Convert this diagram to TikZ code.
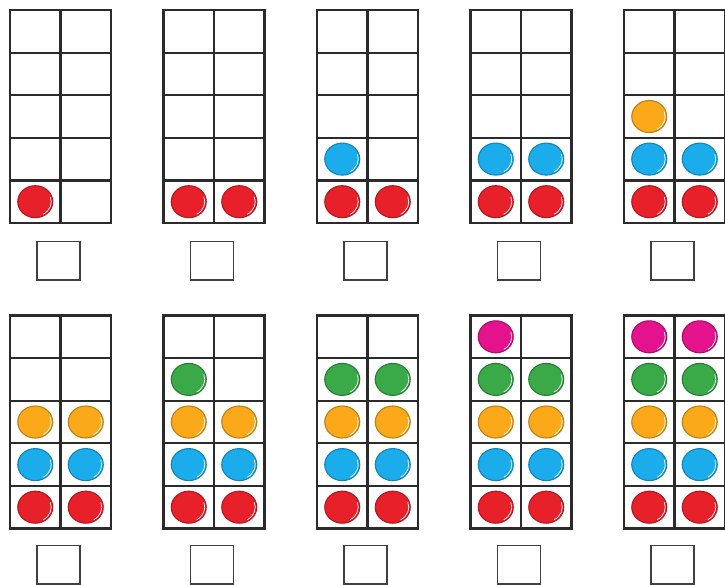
\documentclass[tikz,border=0pt]{standalone}
\usetikzlibrary{calc}
\definecolor{cz}{HTML}{E8202A}\definecolor{dz}{HTML}{B0181F}
\definecolor{co}{HTML}{1BADEB}\definecolor{do}{HTML}{1382B5}
\definecolor{ct}{HTML}{FBA919}\definecolor{dt}{HTML}{B8801A}
\definecolor{ch}{HTML}{3AAA48}\definecolor{dh}{HTML}{2A7A36}
\definecolor{cf}{HTML}{E4128D}\definecolor{df}{HTML}{A60E68}
\definecolor{linec}{HTML}{2B2B2B}
\begin{document}
\begin{tikzpicture}[x=1pt,y=-1pt,
  gridline/.style={draw=linec,line width=2.2pt},
  boxline/.style={draw=linec!90,line width=1.9pt},
  counter/.style={line width=1.1pt}]
\useasboundingbox (0,0) rectangle (725,584);
\foreach \i in {0,...,9}{
  \pgfmathtruncatemacro{\col}{mod(\i,5)}
  \pgfmathtruncatemacro{\row}{int(\i/5)}
  \pgfmathsetmacro{\xo}{10+153.5*\col}
  \pgfmathsetmacro{\yo}{10+305.5*\row}
  \pgfmathsetmacro{\by}{240.5+304*\row}
  \pgfmathtruncatemacro{\n}{\i+1}
  % counters
  \foreach \k in {1,...,\n}{
    \pgfmathtruncatemacro{\r}{int((\k-1)/2)}
    \pgfmathtruncatemacro{\c}{mod(\k-1,2)}
    \pgfmathsetmacro{\cx}{\xo+25.25+50.5*\c}
    \pgfmathsetmacro{\cy}{\yo+213-21.3-42.6*\r}
    \ifcase\r \def\fc{cz}\def\dc{dz}\or \def\fc{co}\def\dc{do}\or \def\fc{ct}\def\dc{dt}\or \def\fc{ch}\def\dc{dh}\else \def\fc{cf}\def\dc{df}\fi
    \filldraw[counter,fill=\fc,draw=\dc] (\cx,\cy) ellipse [x radius=17.5pt,y radius=16pt];
    \draw[white,line width=0.7pt] ($(\cx,\cy)+(-60:16pt and 14.5pt)$) arc [start angle=-60,end angle=20,x radius=16pt,y radius=14.5pt];
  }
  % grid
  \draw[gridline] (\xo,\yo) rectangle (\xo+101,\yo+213);
  \draw[gridline] (\xo+50.5,\yo) -- (\xo+50.5,\yo+213);
  \foreach \h in {1,2,3,4}{
    \draw[gridline] (\xo,\yo+42.6*\h) -- (\xo+101,\yo+42.6*\h);
  }
  % answer box
  \node[boxline,minimum width=43pt,minimum height=38.5pt,inner sep=0pt,anchor=north west] (box\i) at (\xo+26,\by) {};
}
\end{tikzpicture}
\end{document}
